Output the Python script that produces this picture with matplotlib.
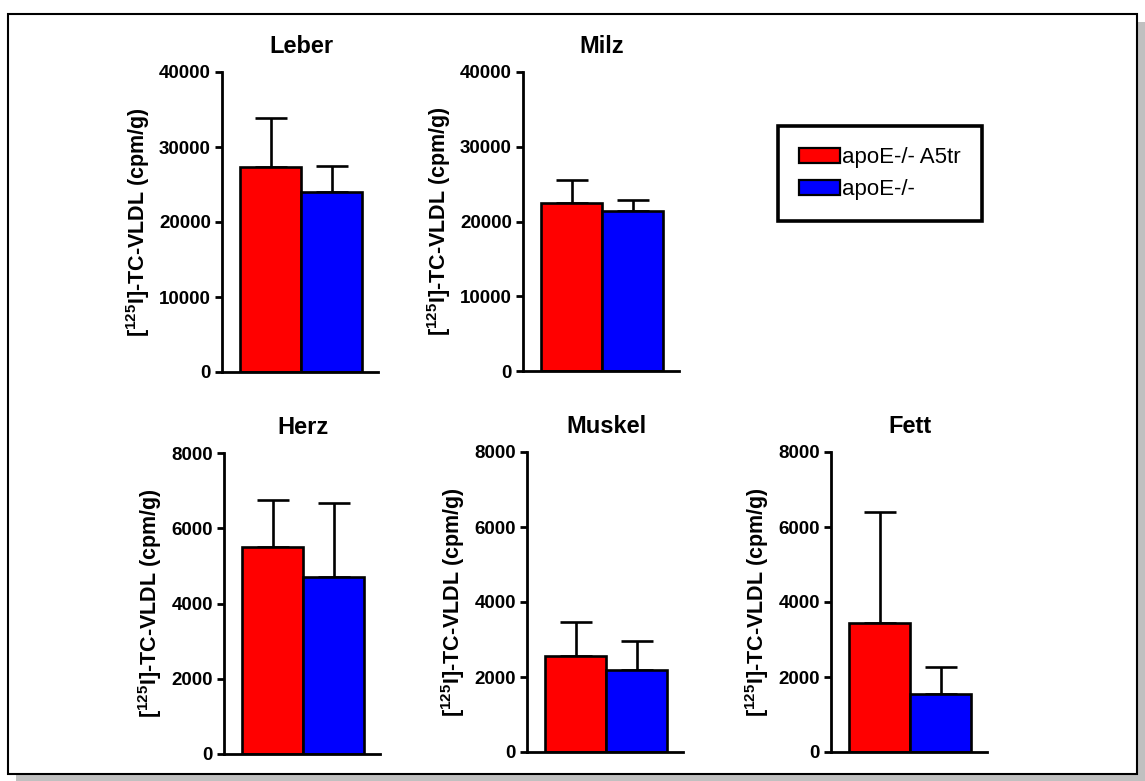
import matplotlib
matplotlib.use("Agg")
import matplotlib.pyplot as plt
from matplotlib.patches import Rectangle, Patch

plt.rcParams['font.family'] = ['Liberation Sans', 'DejaVu Sans']
plt.rcParams['mathtext.fontset'] = 'custom'
plt.rcParams['mathtext.rm'] = 'Liberation Sans'
plt.rcParams['mathtext.bf'] = 'Liberation Sans:bold'

# values
organs = ['Leber', 'Milz', 'Herz', 'Muskel', 'Fett']
a5tr_mean = [27300, 22500, 5500, 2550, 3450]
a5tr_err = [6500, 3100, 1240, 930, 2950]
ko_mean = [24000, 21400, 4700, 2200, 1550]
ko_err = [3500, 1500, 1970, 770, 720]
y_max = [40000, 40000, 8000, 8000, 8000]
y_step = [10000, 10000, 2000, 2000, 2000]
groups = ['apoE-/- A5tr', 'apoE-/-']
colors = ['#ff0000', '#0000ff']

W, H = 1145, 781
fig = plt.figure(figsize=(W / 100, H / 100), dpi=100)

# panel boxes in pixels: left, top (y max), bottom (y = 0)
boxes = [(222, 72, 372), (523, 72, 371), (224, 453, 754), (527, 452, 752), (831, 452, 752)]
ax_w = 156

# frame with shadow round the whole figure
fig.add_artist(Rectangle((16 / W, 0), (W - 16) / W, 1 - 22 / H, transform=fig.transFigure,
                         facecolor='#c0c0c0', edgecolor='none', zorder=-3))
fig.add_artist(Rectangle((8 / W, 1 - 774 / H), (1137 - 8) / W, (774 - 14) / H, transform=fig.transFigure,
                         facecolor='white', edgecolor='black', lw=1.5, zorder=-2))

ylabel = '[$^{\\mathbf{125}}$I]-TC-VLDL (cpm/g)'

for i, name in enumerate(organs):
    left, top, bottom = boxes[i]
    ax = fig.add_axes([left / W, 1 - bottom / H, ax_w / W, (bottom - top) / H])
    ax.patch.set_visible(False)
    means = [a5tr_mean[i], ko_mean[i]]
    errs = [a5tr_err[i], ko_err[i]]
    ax.errorbar([0, 1], means, yerr=[[0, 0], errs], fmt='none', ecolor='black',
                elinewidth=1.9, capsize=11.5, capthick=1.9, zorder=1)
    ax.bar([0, 1], means, width=1, color=colors, edgecolor='black', linewidth=1.9, zorder=2)
    ax.set_xlim(-0.795, 1.762)
    ax.set_ylim(0, y_max[i])
    ax.set_yticks(range(0, y_max[i] + 1, y_step[i]))
    ax.set_xticks([])
    for s in ['top', 'right']:
        ax.spines[s].set_visible(False)
    for s in ['left', 'bottom']:
        ax.spines[s].set_linewidth(2.0)
    ax.tick_params(axis='y', length=5, width=2.0, pad=3, labelsize=13.5)
    for lab in ax.get_yticklabels():
        lab.set_fontweight('bold')
    ax.set_title(name, fontsize=17, fontweight='bold', pad=14, x=1.295 / 2.557)
    ax.set_ylabel(ylabel, fontsize=15.5, fontweight='bold', labelpad=5)

handles = [Patch(facecolor=c, edgecolor='black', linewidth=1.6) for c in colors]
leg = fig.legend(handles, groups, loc='upper left', bbox_to_anchor=(778 / W, 1 - 126 / H),
                 fontsize=16, handlelength=1.85, handleheight=0.68, handletextpad=0.1,
                 borderpad=0.95, labelspacing=0.5, borderaxespad=0, fancybox=False,
                 edgecolor='black', framealpha=1)
leg.get_frame().set_linewidth(2.6)

fig.savefig('out.png', dpi=100)
